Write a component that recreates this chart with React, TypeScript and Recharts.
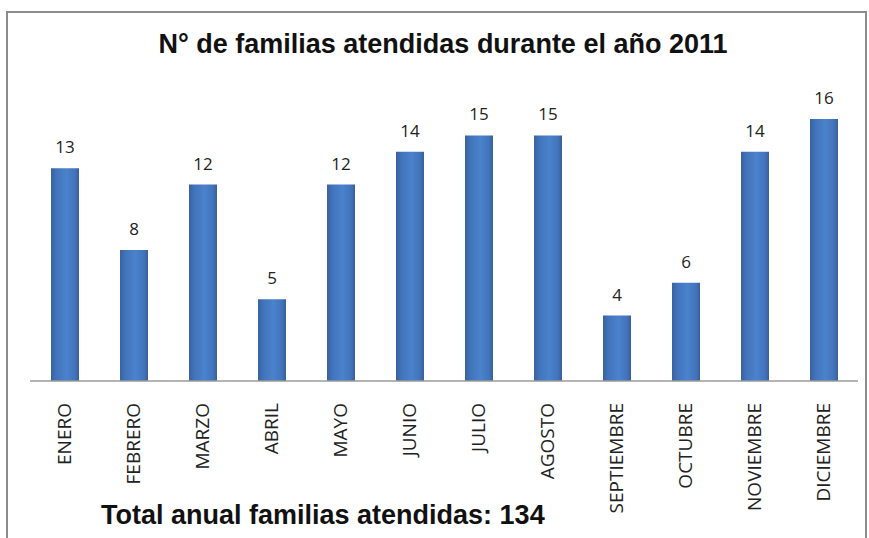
import React from "react";
import { BarChart, Bar, XAxis, YAxis, LabelList } from "recharts";

const months = ["ENERO", "FEBRERO", "MARZO", "ABRIL", "MAYO", "JUNIO", "JULIO", "AGOSTO", "SEPTIEMBRE", "OCTUBRE", "NOVIEMBRE", "DICIEMBRE"];
const families = [13, 8, 12, 5, 12, 14, 15, 15, 4, 6, 14, 16];
const title = "N° de familias atendidas durante el año 2011";
const footer = "Total anual familias atendidas: 134";

const data = months.map((m, i) => ({ month: m, value: families[i] }));

const MonthTick = (props: any) => {
  const { x, y, payload } = props;
  return (
    <text
      transform={`translate(${x},${y + 14}) rotate(-90)`}
      textAnchor="end"
      dy="0.36em"
      fontSize={19}
      fontFamily="'Open Sans', 'Liberation Sans', sans-serif"
      fill="#222"
    >
      {payload.value}
    </text>
  );
};

export default function App() {
  return (
    <div style={{ position: "absolute", left: 0, top: 0, width: 869, height: 538, background: "#fff", overflow: "hidden" }}>
      <div
        style={{
          position: "absolute",
          left: 6,
          top: 11,
          width: 861,
          height: 540,
          border: "2px solid #8c8c8c",
          boxSizing: "border-box",
        }}
      />
      <div
        style={{
          position: "absolute",
          left: 0,
          width: 886,
          top: 29,
          textAlign: "center",
          fontFamily: "'Liberation Sans', Arial, sans-serif",
          fontWeight: "bold",
          fontSize: 27,
          lineHeight: "30px",
          color: "#111",
        }}
      >
        {title}
      </div>
      <div
        style={{
          position: "absolute",
          left: 101,
          top: 500,
          fontFamily: "'Liberation Sans', Arial, sans-serif",
          fontWeight: "bold",
          fontSize: 27,
          lineHeight: "30px",
          color: "#111",
        }}
      >
        {footer}
      </div>
      <div style={{ position: "absolute", left: 0, top: 0 }}>
        <BarChart width={869} height={538} data={data} margin={{ top: 119, right: 11, bottom: 0, left: 30 }} barCategoryGap={0}>
          <defs>
            <linearGradient id="barGrad" x1="0" y1="0" x2="1" y2="0">
              <stop offset="0%" stopColor="#3a62a0" />
              <stop offset="20%" stopColor="#4274bb" />
              <stop offset="55%" stopColor="#4a82cc" />
              <stop offset="85%" stopColor="#4274bb" />
              <stop offset="100%" stopColor="#395f9c" />
            </linearGradient>
          </defs>
          <XAxis
            dataKey="month"
            height={157}
            interval={0}
            tickLine={false}
            axisLine={{ stroke: "#9a9a9a", strokeWidth: 1.5 }}
            tick={<MonthTick />}
          />
          <YAxis hide domain={[0, 16]} />
          <Bar dataKey="value" fill="url(#barGrad)" barSize={28} isAnimationActive={false}>
            <LabelList
              dataKey="value"
              position="top"
              offset={15}
              fontSize={17}
              fill="#222"
              fontFamily="'Open Sans', 'Liberation Sans', sans-serif"
            />
          </Bar>
        </BarChart>
      </div>
    </div>
  );
}
